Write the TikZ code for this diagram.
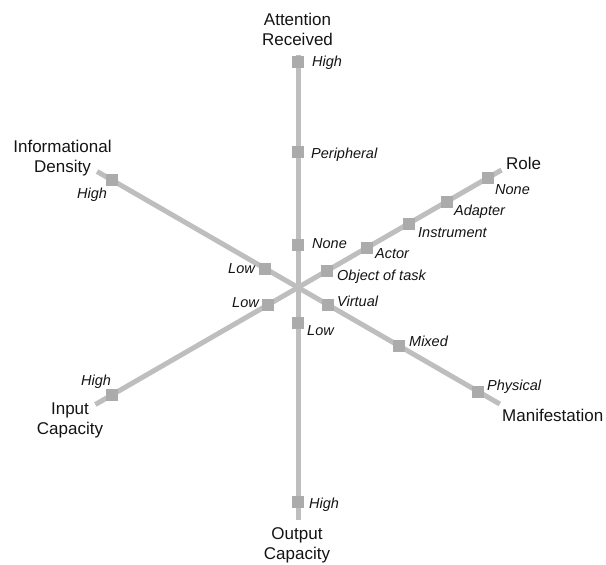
\documentclass[tikz,border=0pt]{standalone}
\usepackage{fontspec}
\setmainfont{Liberation Sans}
\usetikzlibrary{calc}
\definecolor{axisgray}{HTML}{BEBEBE}
\definecolor{markgray}{HTML}{ABABAB}
\definecolor{txt}{HTML}{141414}
\begin{document}
\begin{tikzpicture}[x=1pt,y=-1pt,
  axis/.style={draw=axisgray,line width=5pt},
  sqmark/.style={fill=markgray,draw=none,minimum size=12pt,inner sep=0pt},
  val/.style={font=\fontsize{14.5}{17}\selectfont\itshape,text=txt,inner sep=0pt},
  ttl/.style={font=\fontsize{17}{20}\selectfont,align=center,text=txt,inner sep=0pt,anchor=north},
  ttlone/.style={font=\fontsize{17}{20}\selectfont,text=txt,inner sep=0pt,anchor=base west}]
\useasboundingbox (0,0) rectangle (606,565);
\coordinate (C) at (298,287.5);
% axis ends
\coordinate (Vt) at ($(C)+(0,-233)$);
\coordinate (Vb) at ($(C)+(0,232)$);
\coordinate (Dl) at ($(C)+({-0.866*232},{-0.5*232})$);
\coordinate (Dr) at ($(C)+({0.866*233},{0.5*233})$);
\coordinate (Il) at ($(C)+({-0.866*234},{0.5*234})$);
\coordinate (Rr) at ($(C)+({0.866*235},{-0.5*235})$);
\draw[axis] (Vt) -- (Vb);
\draw[axis] (Dl) -- (Dr);
\draw[axis] (Il) -- (Rr);
% vertical axis marks
\node[sqmark] (a3) at ($(C)+(0,-226)$) {};
\node[sqmark] (a2) at ($(C)+(0,-136)$) {};
\node[sqmark] (a1) at ($(C)+(0,-43)$) {};
\node[sqmark] (o1) at ($(C)+(0,35)$) {};
\node[sqmark] (o2) at ($(C)+(0,214)$) {};
% informational density
\node[sqmark] (d1) at ($(C)+({-0.866*38},{-0.5*38})$) {};
\node[sqmark] (d2) at ($(C)+({-0.866*215},{-0.5*215})$) {};
% manifestation
\node[sqmark] (m1) at ($(C)+({0.866*35},{0.5*35})$) {};
\node[sqmark] (m2) at ($(C)+({0.866*117},{0.5*117})$) {};
\node[sqmark] (m3) at ($(C)+({0.866*208},{0.5*208})$) {};
% input capacity
\node[sqmark] (i1) at ($(C)+({-0.866*35},{0.5*35})$) {};
\node[sqmark] (i2) at ($(C)+({-0.866*215},{0.5*215})$) {};
% role
\node[sqmark] (r1) at ($(C)+({0.866*33.5},{-0.5*33.5})$) {};
\node[sqmark] (r2) at ($(C)+({0.866*80},{-0.5*80})$) {};
\node[sqmark] (r3) at ($(C)+({0.866*128},{-0.5*128})$) {};
\node[sqmark] (r4) at ($(C)+({0.866*172},{-0.5*172})$) {};
\node[sqmark] (r5) at ($(C)+({0.866*219},{-0.5*219})$) {};
% value labels
\node[val,anchor=base west] (la3) at (312,66) {High};
\node[val,anchor=base west] (la2) at (311,158) {Peripheral};
\node[val,anchor=base west] (la1) at (312,248) {None};
\node[val,anchor=base west] (lo1) at (307,335) {Low};
\node[val,anchor=base west] (lo2) at (309,508) {High};
\node[val,anchor=base west] (ld2) at (77,198) {High};
\node[val,anchor=base east] (ld1) at (255,273) {Low};
\node[val,anchor=base east] (li1) at (259,307) {Low};
\node[val,anchor=base west] (li2) at (81,385) {High};
\node[val,anchor=base west] (lr1) at (337,280) {Object of task};
\node[val,anchor=base west] (lr2) at (375,258) {Actor};
\node[val,anchor=base west] (lr3) at (418,237) {Instrument};
\node[val,anchor=base west] (lr4) at (454,215) {Adapter};
\node[val,anchor=base west] (lr5) at (495,194) {None};
\node[val,anchor=base west] (lm1) at (337,306) {Virtual};
\node[val,anchor=base west] (lm2) at (409,346) {Mixed};
\node[val,anchor=base west] (lm3) at (487,390) {Physical};
% axis titles
\node[ttl] (tA) at (297.5,12.5) {Attention\\Received};
\node[ttl] (tO) at (297,527) {Output\\Capacity};
\node[ttl] (tD) at (62.5,139.5) {Informational\\Density};
\node[ttl] (tI) at (70,402.5) {Input\\Capacity};
\node[ttlone] (tR) at (506,169) {Role};
\node[ttlone] (tM) at (502,421) {Manifestation};
\end{tikzpicture}
\end{document}
